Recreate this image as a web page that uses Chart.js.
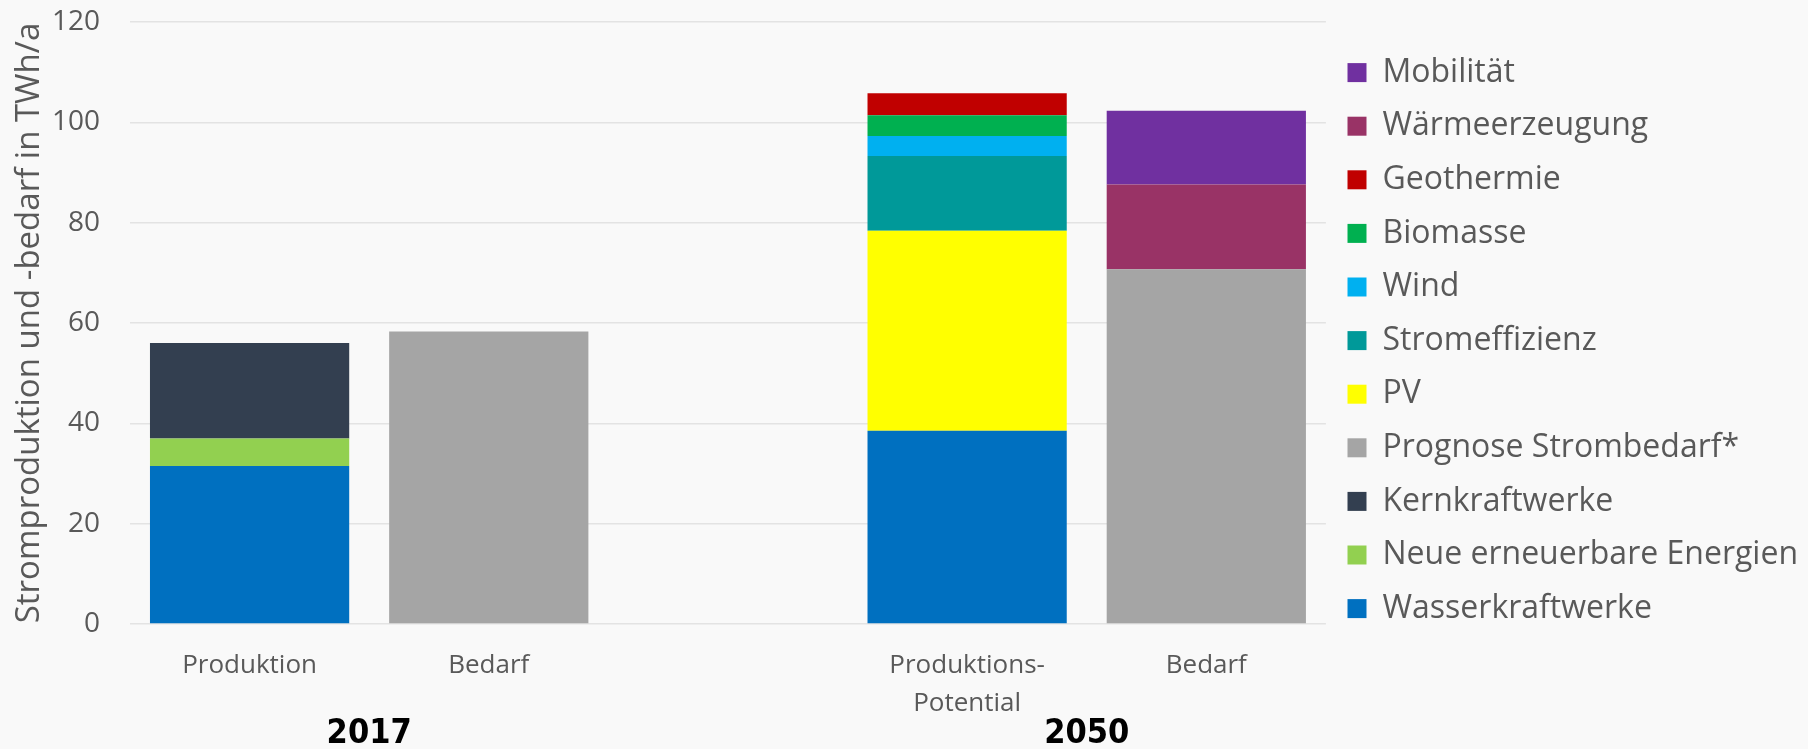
<!DOCTYPE html>
<html>
<head>
<meta charset="utf-8">
<script src="https://cdn.jsdelivr.net/npm/chart.js@4.4.1/dist/chart.umd.min.js"></script>
<style>
    html, body { margin: 0; padding: 0; background: #f9f9f9; }
    #wrap { width: 1808px; height: 749px; }
</style>
</head>
<body>
<div id="wrap"><canvas id="stromChart" width="1808" height="749"></canvas></div>
<script>
// categories (third slot is the empty gap between 2017 and 2050)
const categories = ['Produktion', 'Bedarf', '', ['Produktions-', 'Potential'], 'Bedarf'];
// second row of x labels, spread over 11 evenly spaced points so the years sit between their two bars
const yearLabels = ['', '', '2017', '', '', '', '', '', '2050', '', ''];
const yTicks = [0, 20, 40, 60, 80, 100, 120];

// TWh/a, bottom to top in the stacks
const wasserkraftwerke = [31.5, null, null, 38.5, null];
const neueErneuerbare = [5.5, null, null, null, null];
const kernkraftwerke = [19, null, null, null, null];
const prognoseStrombedarf = [null, 58.3, null, null, 70.7];
const pv = [null, null, null, 39.9, null];
const stromeffizienz = [null, null, null, 14.9, null];
const wind = [null, null, null, 4, null];
const biomasse = [null, null, null, 4.1, null];
const geothermie = [null, null, null, 4.4, null];
const waermeerzeugung = [null, null, null, null, 16.9];
const mobilitaet = [null, null, null, null, 14.7];

const textColor = '#595959';
const gridColor = '#e3e3e3';
const fontFamily = '"Open Sans", "Noto Sans", sans-serif';
const narrowFamily = '"Liberation Sans Narrow", "DejaVu Sans Condensed", "Open Sans", sans-serif';

function series(label, data, color) {
    return {
        label,
        data,
        backgroundColor: color,
        borderWidth: 0,
        barPercentage: 0.833,
        categoryPercentage: 1,
    };
}

const datasets = [
    series('Wasserkraftwerke', wasserkraftwerke, '#0070c0'),
    series('Neue erneuerbare Energien', neueErneuerbare, '#92d050'),
    series('Kernkraftwerke', kernkraftwerke, '#333f50'),
    series('Prognose Strombedarf*', prognoseStrombedarf, '#a5a5a5'),
    series('PV', pv, '#ffff00'),
    series('Stromeffizienz', stromeffizienz, '#009999'),
    series('Wind', wind, '#00b0f0'),
    series('Biomasse', biomasse, '#00b050'),
    series('Geothermie', geothermie, '#c00000'),
    series('Wärmeerzeugung', waermeerzeugung, '#993366'),
    series('Mobilität', mobilitaet, '#7030a0'),
];

new Chart(document.getElementById('stromChart'), {
    type: 'bar',
    data: {
        labels: categories,
        datasets,
    },
    options: {
        responsive: false,
        animation: false,
        layout: {
            padding: { top: 22, right: 0, bottom: 0, left: 0 },
        },
        plugins: {
            tooltip: { enabled: false },
            legend: {
                position: 'right',
                align: 'start',
                reverse: true,
                maxWidth: 483,
                // empty title only used as a spacer above the first entry
                title: {
                    display: true,
                    text: '',
                    font: { size: 8, lineHeight: 1 },
                    padding: { top: 0, bottom: 5 },
                },
                labels: {
                    color: textColor,
                    font: { family: fontFamily, size: 32 },
                    boxWidth: 19,
                    boxHeight: 19,
                    padding: 21.6,
                },
            },
        },
        scales: {
            x: {
                stacked: true,
                weight: 0,
                grid: { display: false, drawTicks: false },
                border: { display: false },
                ticks: {
                    color: textColor,
                    font: { family: fontFamily, size: 26, lineHeight: 1.48 },
                    padding: 22,
                    maxRotation: 0,
                    autoSkip: false,
                },
                afterFit: (scale) => { scale.height = 90; },
            },
            years: {
                type: 'category',
                labels: yearLabels,
                position: 'bottom',
                weight: 1,
                offset: false,
                grid: { display: false, drawTicks: false, offset: false },
                border: { display: false },
                ticks: {
                    color: '#000000',
                    font: { family: narrowFamily, size: 34, weight: 'bold', lineHeight: 1.2 },
                    padding: 0,
                    autoSkip: false,
                    maxRotation: 0,
                },
                afterFit: (scale) => { scale.height = 35; },
            },
            y: {
                stacked: true,
                min: 0,
                max: 120,
                afterBuildTicks: (scale) => {
                    scale.ticks = yTicks.map(v => ({ value: v }));
                },
                grid: {
                    color: gridColor,
                    lineWidth: 1.5,
                    drawTicks: true,
                    tickLength: 30,
                    tickColor: 'transparent',
                },
                border: { display: false },
                ticks: {
                    color: textColor,
                    font: { family: fontFamily, size: 28 },
                    padding: 0,
                },
                title: {
                    display: true,
                    text: 'Stromproduktion und -bedarf in TWh/a',
                    color: textColor,
                    font: { family: fontFamily, size: 33, lineHeight: 1.2 },
                    padding: { top: 10, bottom: 0 },
                },
                afterFit: (scale) => { scale.width = 130; },
            },
        },
    },
});
</script>
</body>
</html>
